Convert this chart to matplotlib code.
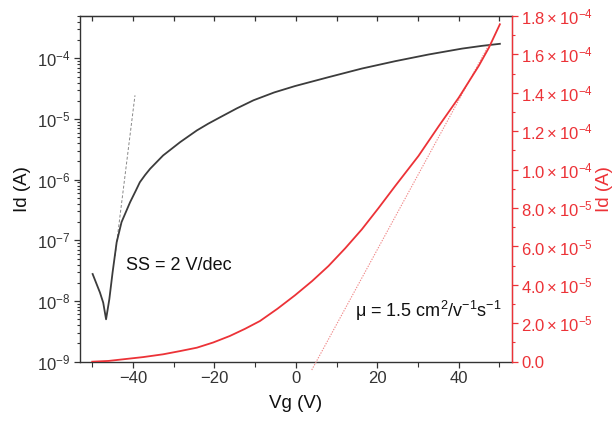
import matplotlib
matplotlib.use("Agg")
import matplotlib.pyplot as plt
import numpy as np
from matplotlib.ticker import MultipleLocator, FuncFormatter, LogLocator

plt.rcParams['font.family'] = ['Liberation Sans', 'DejaVu Sans']
plt.rcParams['mathtext.fontset'] = 'custom'
plt.rcParams['mathtext.rm'] = 'Liberation Sans'
plt.rcParams['mathtext.it'] = 'Liberation Sans:italic'
plt.rcParams['mathtext.bf'] = 'Liberation Sans:bold'

# transfer curve, log scale (left axis)
vg_log = [-49.9, -48.1, -47.3, -46.6, -45.8, -45.0, -44.0, -42.8, -40.7, -39.3, -38.3,
          -37.0, -35.8, -32.6, -28.4, -24.3, -21.5, -18.6, -14.5, -10.4, -5.3, -0.2, 8.0,
          16.2, 24.4, 32.6, 40.8, 45.7, 50.1]
id_log = [2.79e-8, 1.38e-8, 9.4e-9, 5.0e-9, 1.07e-8, 2.96e-8, 9.3e-8, 2.0e-7, 4.26e-7, 6.6e-7,
          9.1e-7, 1.2e-6, 1.51e-6, 2.51e-6, 4.17e-6, 6.5e-6, 8.4e-6, 1.07e-5, 1.5e-5, 2.04e-5,
          2.75e-5, 3.5e-5, 4.9e-5, 6.8e-5, 9.0e-5, 1.16e-4, 1.45e-4, 1.61e-4, 1.74e-4]

# transfer curve, linear scale (right axis)
vg_lin = [-50.0, -46.0, -42.4, -37.5, -32.6, -28.5, -24.3, -20.3, -16.2, -12.5, -8.8,
          -4.5, -0.2, 4.0, 8.0, 12.1, 16.2, 20.3, 24.4, 30.1, 35.1, 40.0, 44.9, 47.4, 50.1]
id_lin = [0.0, 0.04e-5, 0.125e-5, 0.24e-5, 0.385e-5, 0.55e-5, 0.73e-5, 1.0e-5, 1.34e-5,
          1.71e-5, 2.12e-5, 2.76e-5, 3.46e-5, 4.2e-5, 4.98e-5, 5.9e-5, 6.89e-5, 8.0e-5,
          9.15e-5, 10.71e-5, 12.27e-5, 13.75e-5, 15.40e-5, 16.35e-5, 17.57e-5]

# fit lines
ss_v = [-44.4, -39.5]
ss_i = [5.5e-8, 2.46e-5]
mu_v = [3.9, 47.4]
mu_i = [-0.43e-5, 1.65e-4]

black = '#3c3c3c'
red = '#ec3237'

fig = plt.figure(figsize=(6.12, 4.21), dpi=100)
ax = fig.add_axes([80 / 612, 1 - 361.7 / 421, (511.7 - 80) / 612, (361.7 - 16) / 421])

ax.plot(vg_log, id_log, color=black, lw=1.3, zorder=3)
ax.plot(ss_v, ss_i, color='#888888', lw=0.7, ls=(0, (3, 2)), zorder=2)
ax.set_yscale('log')
ax.set_ylim(1e-9, 5e-4)
ax.set_xlim(-53, 53)
ax.xaxis.set_major_locator(MultipleLocator(20))
ax.xaxis.set_minor_locator(MultipleLocator(10))
ax.yaxis.set_major_locator(LogLocator(base=10, numticks=10))
ax.yaxis.set_minor_locator(LogLocator(base=10, subs=np.arange(2, 10), numticks=20))
ax.tick_params(axis='both', which='both', direction='out', labelsize=12, colors='#333333')
ax.tick_params(which='major', length=4, width=0.9)
ax.tick_params(which='minor', length=2.5, width=0.8)
ax.tick_params(axis='x', which='minor', length=3.5)
ax.tick_params(axis='x', pad=3)
ax.tick_params(axis='y', pad=3)
for s in ['left', 'bottom', 'top']:
    ax.spines[s].set_color('#333333')
    ax.spines[s].set_linewidth(1.0)
ax.set_xlabel('Vg (V)', fontsize=13.5, color='#111111', labelpad=6)
ax.set_ylabel('Id (A)', fontsize=13.5, color='#111111', labelpad=4)

top = ax.secondary_xaxis('top')
top.xaxis.set_major_locator(MultipleLocator(10))
top.tick_params(direction='in', length=3.5, width=0.9, labeltop=False, colors='#333333')
top.spines['top'].set_color('#333333')

ax.text(-41.6, 3.8e-8, 'SS = 2 V/dec', fontsize=13, color='#111111', va='center')

ax2 = ax.twinx()
ax2.plot(vg_lin, id_lin, color=red, lw=1.3, zorder=3)
ax2.plot(mu_v, mu_i, color='#f08888', lw=0.8, ls=(0, (1.2, 1.2)), clip_on=False, zorder=2)
ax2.set_ylim(0, 1.8e-4)
ax2.yaxis.set_major_locator(MultipleLocator(2e-5))
ax2.yaxis.set_minor_locator(MultipleLocator(1e-5))


def sci(v, pos):
    if abs(v) < 1e-12:
        return '0.0'
    e = int(np.floor(np.log10(abs(v)) + 1e-9))
    m = v / 10 ** e
    return r'$\mathdefault{%.1f\times10^{%d}}$' % (m, e)


ax2.yaxis.set_major_formatter(FuncFormatter(sci))
ax2.tick_params(axis='y', which='both', direction='out', colors=red, labelsize=12, pad=3)
ax2.tick_params(which='major', length=4, width=0.9)
ax2.tick_params(which='minor', length=2.5, width=0.8)
for s in ['left', 'top', 'bottom']:
    ax2.spines[s].set_visible(False)
ax2.spines['right'].set_color(red)
ax2.spines['right'].set_linewidth(1.0)
ax2.set_ylabel('Id (A)', fontsize=13.5, color=red, labelpad=2)

ax2.text(14.6, 2.62e-5, r'μ = 1.5 cm$^{2}$/v$^{-1}$s$^{-1}$', fontsize=13, color='#111111', va='center')

fig.savefig('out.png', dpi=100)
